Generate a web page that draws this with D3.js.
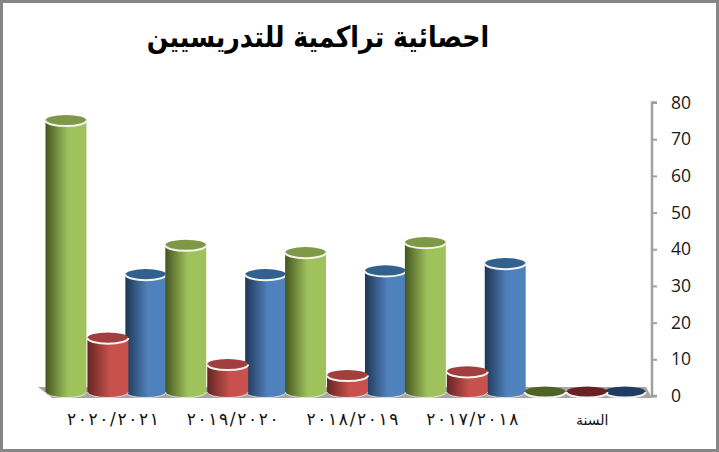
<!DOCTYPE html>
<html>
<head>
    <meta charset="utf-8" />
    <title>احصائية تراكمية للتدريسيين</title>
    <script src="https://d3js.org/d3.v7.min.js"></script>
    <style>
      html, body { margin: 0; padding: 0; background: #fff; }
      svg { display: block; }
      .title { font-family: "DejaVu Sans", sans-serif; font-weight: bold; font-size: 29px; fill: #000; }
      .catLabel { font-family: "DejaVu Sans", sans-serif; font-size: 16px; fill: #111; }
      .valLabel { font-family: "Open Sans", "Noto Sans", sans-serif; font-size: 17.5px; fill: #1a1a1a; }
    </style>
</head>
<body>
<svg id="chart" width="719" height="452"></svg>
<script>
    // Data, left to right as in the picture
    var categories = ["٢٠٢٠/٢٠٢١", "٢٠١٩/٢٠٢٠", "٢٠١٨/٢٠١٩", "٢٠١٧/٢٠١٨", "السنة"];
    var greenValues = [74, 40, 38, 40.7, 0];
    var redValues = [14.7, 7.5, 4.5, 5.5, 0];
    var blueValues = [32, 32, 33, 35, 0];
    var tickValues = [0, 10, 20, 30, 40, 50, 60, 70, 80];
    var titleText = "احصائية تراكمية للتدريسيين";

    var seriesNames = ["green", "red", "blue"];
    var seriesValues = [greenValues, redValues, blueValues];
    var seriesColors = ["#a0c25c", "#c8514e", "#4f81bd"];
    var seriesDark = ["#44561f", "#652523", "#1f3655"];
    var seriesTop = ["#7e9848", "#a03f3d", "#33618f"];
    var seriesZero = ["#4f6228", "#6a2024", "#1f3c63"];
    // the red bars sit a touch right of their slot in the original
    var seriesShift = [0, 2, 0];

    var svg = d3.select("#chart");
    var W = 719, H = 452;

    // chart frame
    svg.append("rect")
        .attr("x", 1.5).attr("y", 1.5)
        .attr("width", W - 3).attr("height", H - 3)
        .attr("fill", "#fff")
        .attr("stroke", "#868686")
        .attr("stroke-width", 3);

    svg.append("text")
        .attr("class", "title")
        .attr("transform", "translate(318,47) scale(0.87,1)")
        .attr("text-anchor", "middle")
        .attr("direction", "rtl")
        .text(titleText);

    // scales
    var x = d3.scaleBand().domain(categories).range([46, 645]);
    var xInner = d3.scaleBand().domain(seriesNames).range([0, x.bandwidth()]);
    var axisY = d3.scaleLinear().domain([0, 80]).range([396, 102.5]);
    // bars sit a little behind the axis because of the 3d floor
    var depth = 4;
    var ry = 5.6;

    // floor
    svg.append("path")
        .attr("d", d3.line()([[38, 387], [646, 387], [652, 398], [52, 398]]) + "Z")
        .attr("fill", "#a6a6a6");

    // axis on the right
    var axis = d3.axisRight(axisY)
        .tickValues(tickValues)
        .tickSize(5)
        .tickPadding(14)
        .tickFormat(d3.format("d"));
    var axisG = svg.append("g")
        .attr("transform", "translate(652,0)")
        .call(axis);
    axisG.select(".domain").attr("stroke", "#a0a0a0").attr("stroke-width", 2.5)
        .attr("d", "M5,102.5H0V396H5");
    axisG.selectAll(".tick line").attr("stroke", "#a0a0a0").attr("stroke-width", 2);
    axisG.selectAll(".tick text").attr("class", "valLabel").attr("fill", null).attr("font-size", null).attr("font-family", null);
    axisG.attr("font-size", null).attr("font-family", null);

    // gradients for the cylinders
    var defs = svg.append("defs");
    seriesNames.forEach(function(name, i) {
        var g = defs.append("linearGradient").attr("id", "grad-" + name);
        g.append("stop").attr("offset", "0%").attr("stop-color", seriesDark[i]);
        g.append("stop").attr("offset", "55%").attr("stop-color", seriesColors[i]);
        g.append("stop").attr("offset", "100%").attr("stop-color", seriesColors[i]);
    });

    // one cylinder per value
    function drawBar(cat, value, s) {
        var rx = xInner.bandwidth() / 2 + 0.5;
        var cx = x(cat) + xInner(seriesNames[s]) + xInner.bandwidth() / 2 + seriesShift[s];
        var base = axisY(0) - depth;
        var top = axisY(value) - depth;
        var g = svg.append("g");

        if (value > 0) {
            g.append("path")
                .attr("d", "M" + (cx - rx) + "," + top +
                    "V" + base +
                    "A" + rx + "," + ry + " 0 0 0 " + (cx + rx) + "," + base +
                    "V" + top +
                    "A" + rx + "," + ry + " 0 0 1 " + (cx - rx) + "," + top + "Z")
                .attr("fill", "url(#grad-" + seriesNames[s] + ")");
            // light rim at the foot
            g.append("path")
                .attr("d", "M" + (cx - rx) + "," + base +
                    "A" + rx + "," + ry + " 0 0 0 " + (cx + rx) + "," + base)
                .attr("fill", "none")
                .attr("stroke", "#fff")
                .attr("stroke-opacity", 0.7)
                .attr("stroke-width", 1);
        }
        g.append("ellipse")
            .attr("cx", cx).attr("cy", top)
            .attr("rx", rx).attr("ry", ry)
            .attr("fill", value > 0 ? seriesTop[s] : seriesZero[s]);
        // white bevel on the front of the lid
        g.append("path")
            .attr("d", "M" + (cx - rx) + "," + top +
                "A" + rx + "," + ry + " 0 0 0 " + (cx + rx) + "," + top)
            .attr("fill", "none")
            .attr("stroke", "#f4f4ec")
            .attr("stroke-width", 2);
    }

    // blue goes down first, the red bars overlap it
    categories.forEach(function(cat, c) {
        [2, 1, 0].forEach(function(s) {
            drawBar(cat, seriesValues[s][c], s);
        });
    });

    // category labels, the years are stretched out to the original width
    svg.selectAll(".catLabel")
        .data(categories)
        .enter().append("text")
        .attr("class", "catLabel")
        .attr("x", function(d) { return x(d) + x.bandwidth() / 2 + 7; })
        .attr("y", 425)
        .attr("text-anchor", "middle")
        .style("font-size", function(d, i) { return i < 4 ? "17px" : "14px"; })
        .each(function(d, i) {
            if (i < 4) d3.select(this).attr("textLength", 92).attr("lengthAdjust", "spacing");
        })
        .text(function(d) { return d; });
</script>
</body>
</html>
